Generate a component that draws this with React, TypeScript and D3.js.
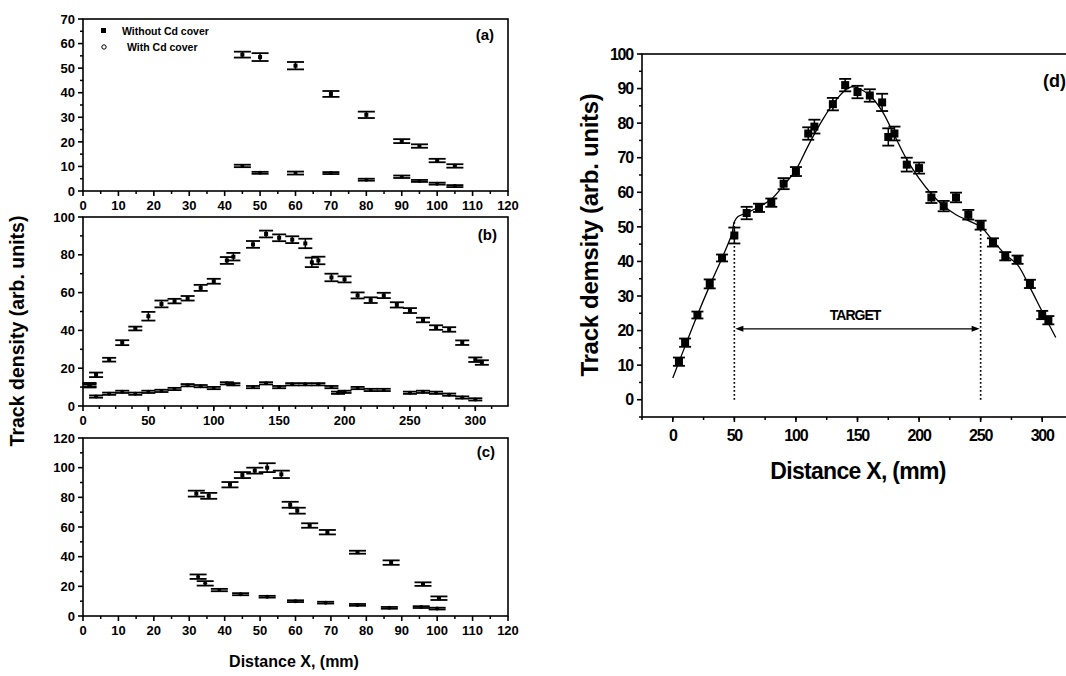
import React from "react";
import * as d3 from "d3";

const W = 1066;
const H = 676;
const FONT = "'Liberation Sans', Arial, sans-serif";

// (a) small target
const aX = [45, 50, 60, 70, 80, 90, 95, 100, 105];
const aWithout = [55.5, 54.5, 51, 39.5, 31, 20.3, 18.3, 12.4, 10.2];
const aWithoutErr = [1.2, 1.6, 1.5, 1.2, 1.3, 0.8, 0.7, 0.7, 0.7];
const aWith = [10.2, 7.4, 7.3, 7.3, 4.6, 5.8, 4.1, 3, 2];
const aWithErr = [0.5, 0.4, 0.6, 0.4, 0.4, 0.5, 0.4, 0.4, 0.4];

// (b) and (d) large target, without Cd cover
const bX = [5, 10, 20, 30, 40, 50, 60, 70, 80, 90, 100, 110, 115, 130, 140, 150, 160, 170, 175, 180, 190, 200, 210, 220, 230, 240, 250, 260, 270, 280, 290, 300, 305];
const bWithout = [11, 16.5, 24.5, 33.5, 41, 47.5, 54, 55.5, 57, 62.5, 66, 77, 79, 85.5, 91, 89, 88, 86, 76, 77, 68, 67, 58.5, 56, 58.5, 53.5, 50.5, 45.5, 41.5, 40.5, 33.5, 24.5, 23];
const bWithoutErr = [1.2, 1.2, 1, 1.3, 1, 2.3, 1.8, 1.2, 1.2, 1.6, 1.3, 1.8, 2, 1.8, 1.8, 1.8, 1.8, 2.5, 2.5, 2, 2, 1.6, 1.6, 1.5, 1.4, 1.4, 1.3, 1.2, 1.2, 1.2, 1.2, 1.2, 1.2];
const bWithX = [5, 10, 20, 30, 40, 50, 60, 70, 80, 90, 100, 110, 115, 130, 140, 150, 160, 170, 180, 190, 195, 200, 210, 220, 230, 250, 260, 270, 280, 290, 300];
const bWith = [11, 5, 6.5, 7.5, 6.5, 7.5, 8, 9, 11, 10.5, 9.5, 12, 11.5, 10, 12, 10, 11.5, 11.5, 11.5, 10, 7, 7.5, 9.5, 8.5, 8.5, 7, 7.5, 7, 6, 4.5, 3.5];

// (c)
const cX = [32, 35.5, 41.5, 45, 48.5, 52, 56, 58.5, 60.5, 64, 69, 77.5, 87, 96, 100.5];
const cWithout = [82.5, 81, 88.5, 95, 98, 100, 95.5, 75, 71, 61, 56.5, 43, 36, 21.5, 12];
const cWithoutErr = [2, 2, 1.8, 2, 2, 3, 2.5, 2, 2, 1.5, 1.5, 1, 1.5, 1.2, 1.2];
const cWithX = [32.5, 34.5, 38.5, 44.5, 52, 60, 68.5, 77.5, 86.5, 95.5, 100];
const cWith = [26.5, 22, 17.5, 14.7, 13, 10, 9, 7.5, 5.5, 6, 5];
const cWithErr = [1.5, 1.5, 0.8, 0.7, 0.6, 0.6, 0.6, 0.6, 0.6, 0.6, 0.6];

// (d) fitted curve
const fitX = [0, 10, 20, 30, 40, 48, 50, 53, 60, 70, 80, 90, 100, 110, 120, 130, 140, 145, 150, 160, 170, 180, 190, 200, 210, 220, 230, 240, 250, 260, 270, 280, 290, 300, 311];
const fitY = [6.3, 15.5, 24.5, 33, 41, 48, 51.5, 53, 54, 55.8, 58, 62, 66.5, 73.5, 80, 85.5, 89.5, 90.5, 90.2, 88, 83.5, 76.5, 69.5, 64, 59.5, 56, 53.5, 51.8, 50, 46, 42, 39, 32.5, 25.5, 18];

type Scale = d3.ScaleLinear<number, number>;

function range(a: number, b: number, s: number) {
  return d3.range(a, b + s / 100, s);
}

function Axes(props: {
  x: Scale; y: Scale; xLab: number[]; xMin: number[]; yLab: number[]; yMin: number[];
  size: number; spacing?: number; xOff: number; yOff: number;
}) {
  const { x, y, xLab, xMin, yLab, yMin, size, spacing = 0, xOff, yOff } = props;
  const [x0, x1] = x.range();
  const [y0, y1] = y.range();
  return (
    <g>
      <rect x={x0} y={y1} width={x1 - x0} height={y0 - y1} fill="none" stroke="#000" strokeWidth={1.6} />
      {xMin.map((v) => (
        <line key={"xm" + v} x1={x(v)} x2={x(v)} y1={y0} y2={y0 + 3} stroke="#000" strokeWidth={1.5} />
      ))}
      {xLab.map((v) => (
        <g key={"x" + v}>
          <line x1={x(v)} x2={x(v)} y1={y0} y2={y0 + 5} stroke="#000" strokeWidth={1.6} />
          <text x={x(v)} y={y0 + xOff} textAnchor="middle" fontSize={size} fontWeight="bold" letterSpacing={spacing}>{v}</text>
        </g>
      ))}
      {yMin.map((v) => (
        <line key={"ym" + v} x1={x0 - 3} x2={x0} y1={y(v)} y2={y(v)} stroke="#000" strokeWidth={1.5} />
      ))}
      {yLab.map((v) => (
        <g key={"y" + v}>
          <line x1={x0 - 5} x2={x0} y1={y(v)} y2={y(v)} stroke="#000" strokeWidth={1.6} />
          <text x={x0 - yOff} y={y(v)} dy="0.36em" textAnchor="end" fontSize={size} fontWeight="bold" letterSpacing={spacing}>{v}</text>
        </g>
      ))}
    </g>
  );
}

function ErrSeries(props: {
  x: Scale; y: Scale; xs: number[]; ys: number[]; err: number[] | number; cap: number;
  kind: "square" | "dot"; size: number;
}) {
  const { x, y, xs, ys, err, cap, kind, size } = props;
  return (
    <g>
      {xs.map((xv, i) => {
        const e = Array.isArray(err) ? err[i] : err;
        const px = x(xv);
        const top = y(ys[i] + e);
        const bot = y(ys[i] - e);
        return (
          <g key={i}>
            <line x1={px} x2={px} y1={top} y2={bot} stroke="#000" strokeWidth={1.5} />
            <line x1={px - cap / 2} x2={px + cap / 2} y1={top} y2={top} stroke="#000" strokeWidth={1.8} />
            <line x1={px - cap / 2} x2={px + cap / 2} y1={bot} y2={bot} stroke="#000" strokeWidth={1.8} />
            {kind === "square" ? (
              <rect x={px - size / 2} y={y(ys[i]) - size / 2} width={size} height={size} fill="#000" />
            ) : (
              <circle cx={px} cy={y(ys[i])} r={size / 2} fill="#000" />
            )}
          </g>
        );
      })}
    </g>
  );
}

export default function App() {
  const ax = d3.scaleLinear([0, 120], [83, 508]);
  const ay = d3.scaleLinear([0, 70], [191, 19]);
  const bx = d3.scaleLinear([0, 325], [83, 508]);
  const by = d3.scaleLinear([0, 100], [406, 217]);
  const cx = d3.scaleLinear([0, 120], [83, 508]);
  const cy = d3.scaleLinear([0, 120], [616, 438]);
  const dx = d3.scaleLinear([-25, 325], [642, 1073]);
  const dy = d3.scaleLinear([-5, 100], [417, 54]);

  const fit = d3
    .line<number>()
    .x((v) => dx(v))
    .y((_, i) => dy(fitY[i]))
    .curve(d3.curveCatmullRom)(fitX);

  return (
    <svg width={W} height={H} style={{ position: "absolute", left: 0, top: 0, background: "#fff" }} fontFamily={FONT}>
      <rect width={W} height={H} fill="#fff" />

      {/* (a) */}
      <Axes x={ax} y={ay} xLab={range(0, 120, 10)} xMin={range(5, 115, 10)} yLab={range(0, 70, 10)} yMin={range(5, 65, 10)} size={13} xOff={19} yOff={8} />
      <ErrSeries x={ax} y={ay} xs={aX} ys={aWithout} err={aWithoutErr} cap={17} kind="square" size={4} />
      <ErrSeries x={ax} y={ay} xs={aX} ys={aWith} err={aWithErr} cap={17} kind="dot" size={4} />
      <rect x={101} y={28} width={5} height={5} fill="#000" />
      <text x={122} y={35} fontSize={10.5} fontWeight="bold">Without Cd cover</text>
      <circle cx={104} cy={47} r={2.2} fill="none" stroke="#000" strokeWidth={1} />
      <text x={127} y={51} fontSize={10.5} fontWeight="bold">With Cd cover</text>
      <text x={494} y={40} textAnchor="end" fontSize={15} fontWeight="bold">(a)</text>

      {/* (b) */}
      <Axes x={bx} y={by} xLab={range(0, 300, 50)} xMin={range(12.5, 312.5, 12.5)} yLab={range(0, 100, 20)} yMin={range(10, 90, 20)} size={13} xOff={19} yOff={8} />
      <ErrSeries x={bx} y={by} xs={bX} ys={bWithout} err={bWithoutErr} cap={14} kind="square" size={4} />
      <ErrSeries x={bx} y={by} xs={bWithX} ys={bWith} err={0.6} cap={14} kind="dot" size={4} />
      <text x={497} y={240} textAnchor="end" fontSize={15} fontWeight="bold">(b)</text>

      {/* (c) */}
      <Axes x={cx} y={cy} xLab={range(0, 120, 10)} xMin={range(5, 115, 10)} yLab={range(0, 120, 20)} yMin={range(10, 110, 20)} size={13} xOff={19} yOff={8} />
      <ErrSeries x={cx} y={cy} xs={cX} ys={cWithout} err={cWithoutErr} cap={17} kind="square" size={4} />
      <ErrSeries x={cx} y={cy} xs={cWithX} ys={cWith} err={cWithErr} cap={17} kind="dot" size={4} />
      <text x={495} y={457} textAnchor="end" fontSize={15} fontWeight="bold">(c)</text>

      <text transform="translate(24,331) rotate(-90)" textAnchor="middle" fontSize={19.5} fontWeight="bold">Track density (arb. units)</text>
      <text x={294} y={667} textAnchor="middle" fontSize={16} fontWeight="bold">Distance X, (mm)</text>

      {/* (d) */}
      <Axes x={dx} y={dy} xLab={range(0, 300, 50)} xMin={range(-25, 325, 25)} yLab={range(0, 100, 10)} yMin={range(-5, 95, 10)} size={16} spacing={-1.2} xOff={24} yOff={9} />
      <path d={fit ?? ""} fill="none" stroke="#000" strokeWidth={1.3} />
      <ErrSeries x={dx} y={dy} xs={bX} ys={bWithout} err={bWithoutErr} cap={12} kind="square" size={8} />
      <line x1={dx(50)} x2={dx(50)} y1={dy(0)} y2={dy(52)} stroke="#000" strokeWidth={1.6} strokeDasharray="1.6,2.4" />
      <line x1={dx(250)} x2={dx(250)} y1={dy(0)} y2={dy(50)} stroke="#000" strokeWidth={1.6} strokeDasharray="1.6,2.4" />
      <line x1={dx(50) + 4} x2={dx(250) - 4} y1={dy(20.5)} y2={dy(20.5)} stroke="#000" strokeWidth={1.2} />
      <path d={`M${dx(50) + 1},${dy(20.5)} l8,-3 l0,6 z`} fill="#000" />
      <path d={`M${dx(250) - 1},${dy(20.5)} l-8,-3 l0,6 z`} fill="#000" />
      <text x={dx(148)} y={dy(24.6)} dy="0.36em" textAnchor="middle" fontSize={14} fontWeight="bold" letterSpacing={-1}>TARGET</text>
      <text x={1066} y={87} textAnchor="end" fontSize={18} fontWeight="bold">(d)</text>
      <text transform="translate(598,235) rotate(-90)" textAnchor="middle" fontSize={24} fontWeight="bold" letterSpacing={-0.3}>Track demsity (arb. units)</text>
      <text x={858} y={479} textAnchor="middle" fontSize={23} fontWeight="bold" letterSpacing={-0.7}>Distance X, (mm)</text>
    </svg>
  );
}
